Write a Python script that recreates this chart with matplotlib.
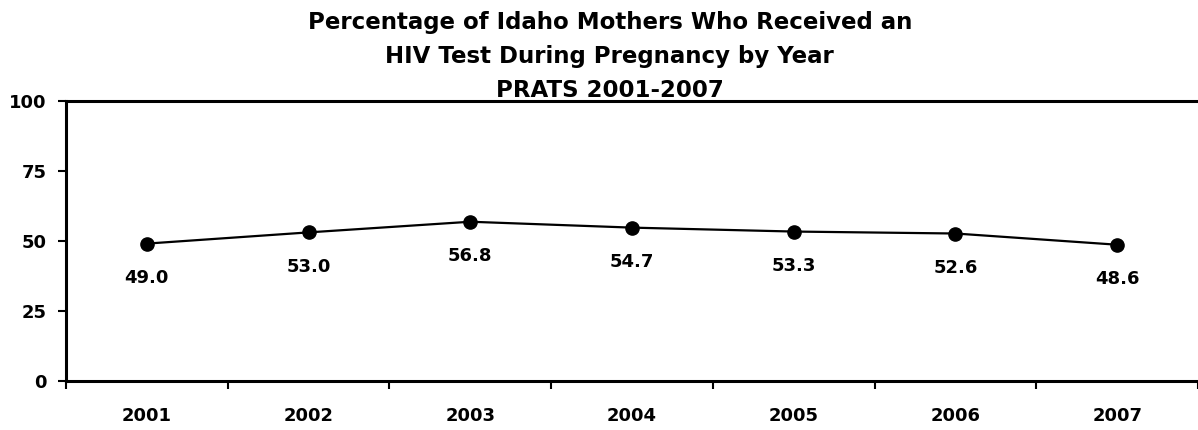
import matplotlib.pyplot as plt

years = ['2001', '2002', '2003', '2004', '2005', '2006', '2007']
pct = [49.0, 53.0, 56.8, 54.7, 53.3, 52.6, 48.6]
yticks = [0, 25, 50, 75, 100]
title_lines = ['Percentage of Idaho Mothers Who Received an',
               'HIV Test During Pregnancy by Year',
               'PRATS 2001-2007']

plt.rcParams['font.family'] = 'DejaVu Sans'
plt.rcParams['font.weight'] = 'bold'

fig = plt.figure(figsize=(11.98, 4.30), dpi=100)
ax = fig.add_axes([0.0551, 0.114, 0.9449, 0.652])

x = list(range(len(years)))
ax.plot(x, pct, color='black', lw=1.6, marker='o', ms=9.5, zorder=3)
for xi, v in zip(x, pct):
    ax.annotate('%.1f' % v, (xi, v), xytext=(0, -25), textcoords='offset points',
                ha='center', va='center', fontsize=13, fontweight='bold')

ax.set_xlim(-0.5, len(years) - 0.5)
ax.set_ylim(0, 100)
ax.set_yticks(yticks)
ax.set_xticks([i - 0.5 for i in range(len(years) + 1)])
ax.set_xticklabels([])
ax.set_xticks(x, minor=True)
ax.set_xticklabels(years, minor=True, fontsize=13, fontweight='bold')
ax.tick_params(axis='x', which='minor', length=0, pad=18.5)
ax.tick_params(axis='x', which='major', length=6, width=1.5, direction='out')
ax.tick_params(axis='y', length=6, width=1.5, direction='out', labelsize=13, pad=8)

for s in ['left', 'bottom', 'top']:
    ax.spines[s].set_linewidth(2.2)
ax.spines['right'].set_visible(False)

for i, line in enumerate(title_lines):
    fig.text(0.509, 1 - (29 + 34 * i) / 430, line, ha='center', va='baseline',
             fontsize=16.5, fontweight='bold')

fig.savefig('out.png', dpi=100)
